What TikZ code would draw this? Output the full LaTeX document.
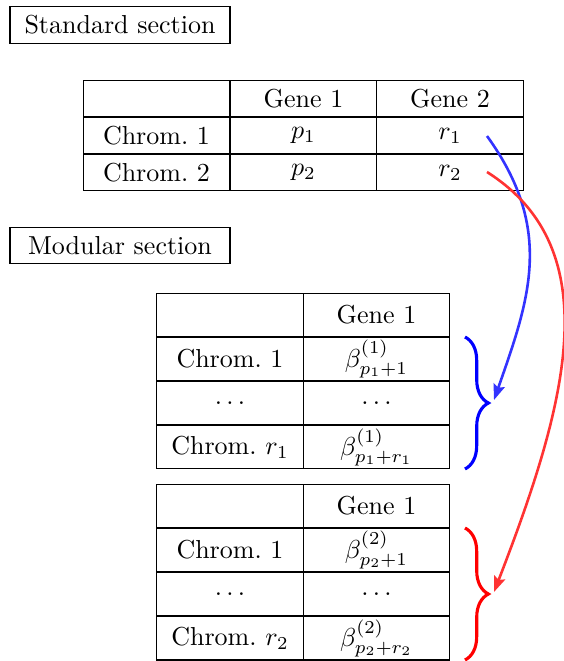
\documentclass[tikz,border=0pt]{standalone}
\usetikzlibrary{arrows.meta, decorations.pathreplacing}
\tikzset{
  title/.style={draw, minimum width=84.6pt, minimum height=13.8pt},
  cell/.style={draw, minimum width=56.5pt, minimum height=14.2pt, inner sep=1pt},
  tall/.style={cell, minimum height=16.9pt},
  curly/.style={decorate, decoration={brace, amplitude=9pt}, line width=1.2pt},
  link/.style={-{Stealth[length=6pt, width=4.5pt, inset=1pt]}, line width=1pt}
}

\begin{document}
\begin{tikzpicture}[x=0.3846pt, y=-0.3846pt]
\useasboundingbox (0,0) rectangle (564,661);
% section titles
\node[title] (std) at (120,25) {Standard section};
\node[title] (mod) at (120,245.5) {Modular section};
% standard table
\node[cell] (s11) at (156.5,98.5) {};
\node[cell] (s12) at (303.5,98.5) {Gene 1};
\node[cell] (s13) at (450,98.5) {Gene 2};
\node[cell] (s21) at (156.5,135.5) {Chrom.~1};
\node[cell] (s22) at (303.5,135.5) {$p_1$};
\node[cell] (s23) at (450,135.5) {$r_1$};
\node[cell] (s31) at (156.5,172.5) {Chrom.~2};
\node[cell] (s32) at (303.5,172.5) {$p_2$};
\node[cell] (s33) at (450,172.5) {$r_2$};
% modular table, chromosome 1
\node[tall] (a11) at (230,315) {};
\node[tall] (a12) at (376.5,315) {Gene 1};
\node[tall] (a21) at (230,359) {Chrom.~1};
\node[tall] (a22) at (376.5,359) {$\beta^{(1)}_{p_1+1}$};
\node[tall] (a31) at (230,403) {$\dots$};
\node[tall] (a32) at (376.5,403) {$\dots$};
\node[tall] (a41) at (230,447) {Chrom.~$r_1$};
\node[tall] (a42) at (376.5,447) {$\beta^{(1)}_{p_1+r_1}$};
% modular table, chromosome 2
\node[tall] (b11) at (230,506) {};
\node[tall] (b12) at (376.5,506) {Gene 1};
\node[tall] (b21) at (230,550) {Chrom.~1};
\node[tall] (b22) at (376.5,550) {$\beta^{(2)}_{p_2+1}$};
\node[tall] (b31) at (230,594) {$\dots$};
\node[tall] (b32) at (376.5,594) {$\dots$};
\node[tall] (b41) at (230,638) {Chrom.~$r_2$};
\node[tall] (b42) at (376.5,638) {$\beta^{(2)}_{p_2+r_2}$};
% braces
\draw[curly, blue] (465,337) -- (465,469);
\draw[curly, red] (465,528) -- (465,660);
% arrows
\coordinate (r1) at (487,136);
\coordinate (r2) at (487,172);
\coordinate (tip1) at (494,400);
\coordinate (tip2) at (494,592);
\draw[link, blue!80] (r1) .. controls (555,230) and (529,300) .. (tip1);
\draw[link, red!80] (r2) .. controls (610,250) and (566,406) .. (tip2);
\end{tikzpicture}
\end{document}
